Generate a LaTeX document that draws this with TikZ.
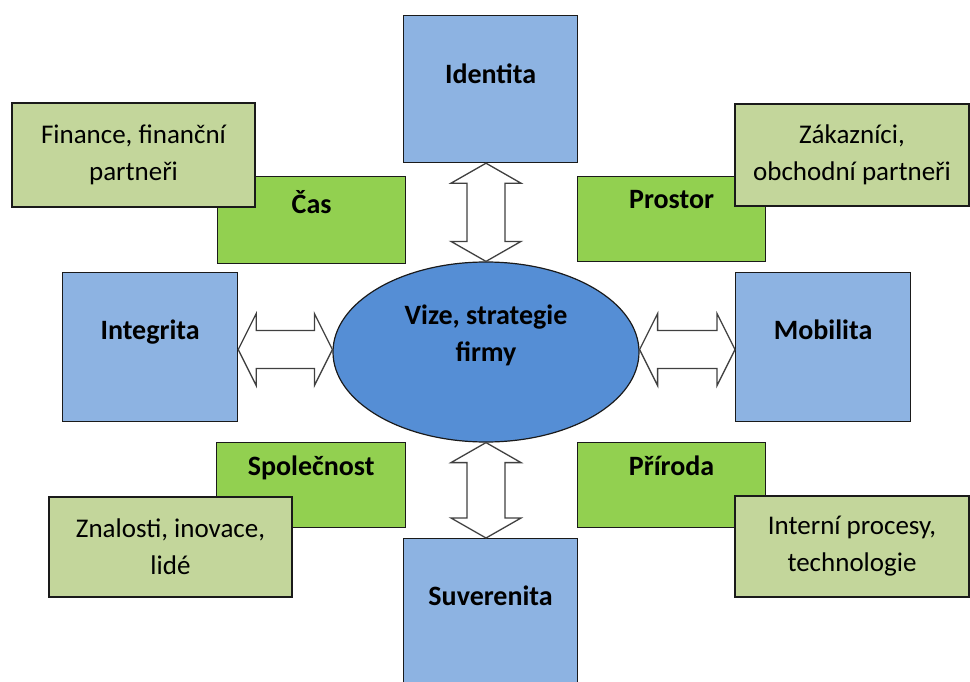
\documentclass[tikz,border=0pt]{standalone}
\usepackage{fontspec}
\setmainfont{Carlito}
\usetikzlibrary{calc,shapes.geometric}
\definecolor{boxblue}{HTML}{8DB3E2}
\definecolor{ellblue}{HTML}{558ED5}
\definecolor{grn}{HTML}{92D050}
\definecolor{lgrn}{HTML}{C3D69B}
\definecolor{edge}{HTML}{1A1A1A}
\tikzset{
  boxbase/.style={draw=edge, line width=1.2pt, inner sep=0pt, anchor=north west,
    font=\fontsize{28}{34}\selectfont\bfseries},
  bluebox/.style={boxbase, fill=boxblue},
  greenbox/.style={boxbase, fill=grn},
  lightbox/.style={draw=edge, line width=1.2pt, inner sep=0pt, fill=lgrn,
    font=\fontsize{27}{37}\selectfont, align=center},
  ellbox/.style={draw=edge, line width=1.2pt, fill=ellblue, ellipse, inner sep=0pt},
  elltext/.style={font=\fontsize{28}{37}\selectfont\bfseries, align=center},
  fat/.style={draw=black!75, line width=1.3pt, fill=white, line join=miter},
}
\begin{document}
\begin{tikzpicture}[x=1pt,y=-1pt]
\useasboundingbox (0,0) rectangle (970,682);
\clip (0,0) rectangle (970,682);
% top
\node[bluebox, minimum width=174pt, text height=68pt, text depth=79pt] (id) at (403,15) {Identita};
% upper left / right pairs
\node[greenbox, minimum width=188pt, text height=37pt, text depth=50pt] (cas) at (217,176) {Čas};
\node[lightbox, minimum width=243pt, minimum height=104pt] (fin) at (133.5,155) {Finance, finanční\\partneři};
\node[greenbox, minimum width=188pt, text height=32pt, text depth=53pt] (pro) at (577,176) {Prostor};
\node[lightbox, minimum width=234pt, minimum height=102pt] (zak) at (852,155) {Zákazníci,\\obchodní partneři};
% middle row
\node[bluebox, minimum width=175pt, text height=67pt, text depth=82pt] (int) at (62,272) {Integrita};
\node[bluebox, minimum width=175pt, text height=67pt, text depth=82pt] (mob) at (735,272) {Mobilita};
\node[ellbox, minimum width=306pt, minimum height=180pt] (el) at (486,352) {};
\node[elltext] (elt) at (486,335) {Vize, strategie\\firmy};
% lower pairs
\node[greenbox, minimum width=189pt, text height=33pt, text depth=52pt] (spo) at (216,442) {Společnost};
\node[lightbox, minimum width=243pt, minimum height=100pt] (zna) at (170.5,547) {Znalosti, inovace,\\lidé};
\node[greenbox, minimum width=188pt, text height=33pt, text depth=52pt] (pri) at (577,442) {Příroda};
\node[lightbox, minimum width=234pt, minimum height=101pt] (ipt) at (852,546.5) {Interní procesy,\\technologie};
% bottom
\node[bluebox, minimum width=174pt, text height=67pt, text depth=90pt] (suv) at (403,538) {Suverenita};
% vertical double arrows
\draw[fat] let \p1=(id.south), \p2=(el.north) in
  (\x2,\y1) -- ++(35pt,-20pt) -- ++(-16pt,0pt) -- (\x2+19pt,\y2+20pt) -- ++(16pt,0pt)
  -- (\x2,\y2) -- ++(-35pt,20pt) -- ++(16pt,0pt) -- (\x2-19pt,\y1-20pt) -- ++(-16pt,0pt) -- cycle;
\draw[fat] let \p1=(el.south), \p2=(suv.north) in
  (\x1,\y1) -- ++(35pt,-20pt) -- ++(-16pt,0pt) -- (\x1+19pt,\y2+20pt) -- ++(16pt,0pt)
  -- (\x1,\y2) -- ++(-35pt,20pt) -- ++(16pt,0pt) -- (\x1-19pt,\y1-20pt) -- ++(-16pt,0pt) -- cycle;
% horizontal double arrows
\draw[fat] let \p1=(int.east), \p2=(el.west), \n1={0.5*(\y1+\y2)} in
  (\x1,\n1) -- ++(18pt,36pt) -- ++(0pt,-17pt) -- (\x2-18pt,\n1+19pt) -- ++(0pt,17pt)
  -- (\x2,\n1) -- ++(-18pt,-36pt) -- ++(0pt,17pt) -- (\x1+18pt,\n1-19pt) -- ++(0pt,-17pt) -- cycle;
\draw[fat] let \p1=(el.east), \p2=(mob.west), \n1={0.5*(\y1+\y2)} in
  (\x1,\n1) -- ++(18pt,36pt) -- ++(0pt,-17pt) -- (\x2-18pt,\n1+19pt) -- ++(0pt,17pt)
  -- (\x2,\n1) -- ++(-18pt,-36pt) -- ++(0pt,17pt) -- (\x1+18pt,\n1-19pt) -- ++(0pt,-17pt) -- cycle;
\end{tikzpicture}
\end{document}
